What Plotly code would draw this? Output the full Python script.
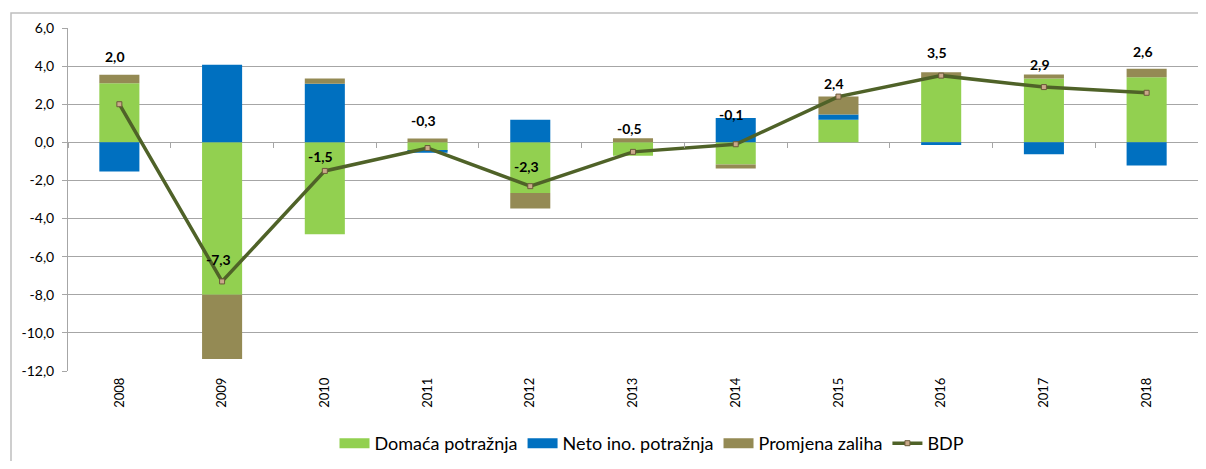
import plotly.graph_objects as go

years = ["2008", "2009", "2010", "2011", "2012", "2013", "2014", "2015", "2016", "2017", "2018"]
domaca = [3.10, -8.00, -4.82, -0.45, -2.66, -0.70, -1.16, 1.19, 3.37, 3.35, 3.41]
neto = [-1.53, 4.07, 3.07, -0.10, 1.18, 0.00, 1.28, 0.27, -0.14, -0.63, -1.21]
zalihe = [0.45, -3.37, 0.28, 0.20, -0.81, 0.21, -0.21, 0.95, 0.31, 0.21, 0.45]
bdp = [2.0, -7.3, -1.5, -0.3, -2.3, -0.5, -0.1, 2.4, 3.5, 2.9, 2.6]
y_ticks = [6, 4, 2, 0, -2, -4, -6, -8, -10, -12]

# styling: vertical pixel offsets of the BDP data labels
label_shift = [48, 22, 14, 28, 20, 23, 30, 13, 23, 23, 41]

GREEN = "#92D050"
BLUE = "#0070C0"
BROWN = "#948A54"
LINE = "#4F6228"
GRID = "#A6A6A6"
FONT = "Lato"

W, H = 1190, 453          # page has an 8px body margin
L, R, T, B = 60, 0, 20, 90
PW, PH = W - L - R, H - T - B

xs = list(range(len(years)))

def fmt(v):
    return f"{v:.1f}".replace(".", ",")

fig = go.Figure()
for name, vals, col in [("Domaća potražnja", domaca, GREEN),
                        ("Neto ino. potražnja", neto, BLUE),
                        ("Promjena zaliha", zalihe, BROWN)]:
    fig.add_trace(go.Bar(x=xs, y=vals, name=name, marker=dict(color=col, line=dict(width=0)),
                         width=0.39, showlegend=False, hoverinfo="y"))

# legend proxies (wide swatches)
for name, col in [("Domaća potražnja", GREEN), ("Neto ino. potražnja", BLUE), ("Promjena zaliha", BROWN)]:
    fig.add_trace(go.Scatter(x=[None], y=[None], mode="lines", name=name,
                             line=dict(color=col, width=11), showlegend=True))

fig.add_trace(go.Scatter(x=xs, y=bdp, name="BDP", mode="lines+markers",
                         line=dict(color=LINE, width=3.5),
                         marker=dict(symbol="square", size=5, color="#C9A98A",
                                     line=dict(color="#6B5A3A", width=1))))

# helper trace for the tick marks on the zero line
fig.add_trace(go.Scatter(x=[xs[0]], y=[0], xaxis="x2", mode="markers", opacity=0,
                         showlegend=False, hoverinfo="skip"))

for x, v, s in zip(xs, bdp, label_shift):
    fig.add_annotation(x=x, y=v, text=f"<b>{fmt(v)}</b>", showarrow=False,
                       yshift=s, xshift=-4, font=dict(family=FONT, size=14, color="black"))

fig.update_layout(
    width=W, height=H,
    margin=dict(l=L, r=R, t=T, b=B, autoexpand=False),
    paper_bgcolor="white", plot_bgcolor="white",
    barmode="relative", bargap=0.6,
    font=dict(family=FONT, size=14, color="black"),
    xaxis=dict(range=[-0.5, len(years) - 0.5], tickvals=xs, ticktext=years, tickangle=-90,
               showgrid=False, zeroline=False, showline=False, ticks="", automargin=False,
               ticklabelstandoff=3, tickfont=dict(size=13), fixedrange=True),
    xaxis2=dict(overlaying="x", anchor="free", position=12 / 18, automargin=False,
                range=[-0.5, len(years) - 0.5],
                tickvals=[i - 0.5 for i in range(len(years) + 1)],
                ticks="outside", ticklen=5, tickcolor=GRID, tickwidth=1,
                showticklabels=False, showgrid=False, zeroline=False, showline=False),
    yaxis=dict(range=[-12, 6], tickvals=y_ticks, ticktext=[fmt(v) for v in y_ticks],
               showgrid=True, gridcolor=GRID, gridwidth=1, automargin=False,
               zeroline=True, zerolinecolor=GRID, zerolinewidth=1,
               showline=True, linecolor=GRID, linewidth=1,
               ticks="outside", ticklen=5, tickcolor=GRID, ticklabelstandoff=5,
               tickfont=dict(size=14), fixedrange=True),
    legend=dict(orientation="h", x=644 / W, xanchor="center", xref="container",
                y=1 - 435.5 / H, yanchor="middle", yref="container",
                font=dict(size=18), itemwidth=30, traceorder="normal"),
    shapes=[dict(type="rect", xref="paper", yref="paper",
                 x0=(3 - L) / PW, x1=1.2, y0=-0.6, y1=(T + PH - 5) / PH,
                 line=dict(color="#BFBFBF", width=1.5), fillcolor="rgba(0,0,0,0)", layer="below")],
)

fig.write_html("out.html")
